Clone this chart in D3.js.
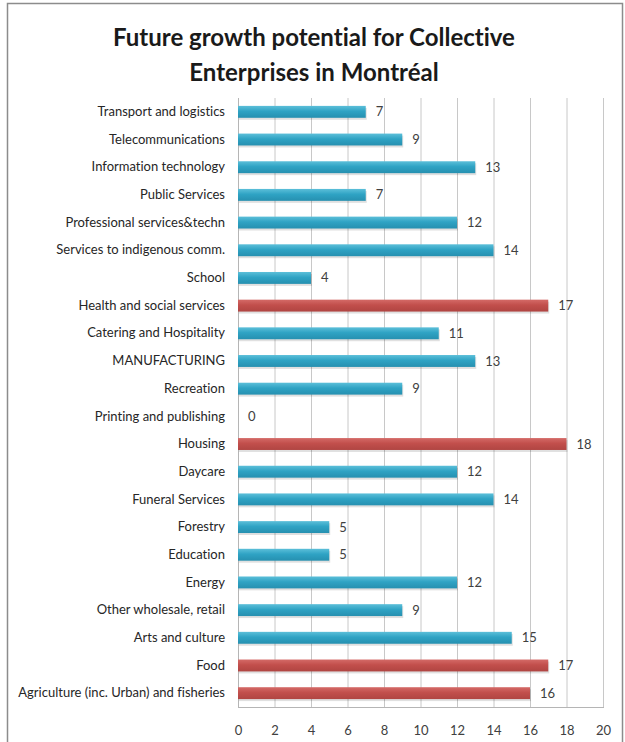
<!DOCTYPE html>
<html>
<head>
<meta charset="utf-8">
<script src="https://cdn.jsdelivr.net/npm/d3@7"></script>
<style>
  body { margin: 0; background: #fff; }
  svg { display: block; font-family: "Lato", "Open Sans", sans-serif; font-variant-ligatures: none; }
</style>
</head>
<body>
<svg width="625" height="742"></svg>
<script>
const categories = [
  "Transport and logistics", "Telecommunications", "Information technology",
  "Public Services", "Professional services&techn", "Services to indigenous comm.",
  "School", "Health and social services", "Catering and Hospitality",
  "MANUFACTURING", "Recreation", "Printing and publishing", "Housing",
  "Daycare", "Funeral Services", "Forestry", "Education", "Energy",
  "Other wholesale, retail", "Arts and culture", "Food",
  "Agriculture (inc. Urban) and fisheries"
];
const values = [7, 9, 13, 7, 12, 14, 4, 17, 11, 13, 9, 0, 18, 12, 14, 5, 5, 12, 9, 15, 17, 16];
const highlighted = ["Health and social services", "Housing", "Food", "Agriculture (inc. Urban) and fisheries"];
const xTicks = [0, 2, 4, 6, 8, 10, 12, 14, 16, 18, 20];
const titleLines = ["Future growth potential for Collective", "Enterprises in Montréal"];

const data = categories.map((c, i) => ({ label: c, value: values[i] }));

const svg = d3.select("svg");
const area = { left: 238, right: 603, top: 98, bottom: 707 };

// frame
svg.append("rect")
   .attr("x", 7.5).attr("y", 3.5)
   .attr("width", 615).attr("height", 745)
   .attr("fill", "#fff")
   .attr("stroke", "#8c8c8c")
   .attr("stroke-width", 1.5);

// gradients
const defs = svg.append("defs");
function addGrad(id, light, mid, dark) {
  const g = defs.append("linearGradient").attr("id", id)
     .attr("x1", 0).attr("y1", 0).attr("x2", 0).attr("y2", 1);
  g.append("stop").attr("offset", "0%").attr("stop-color", light);
  g.append("stop").attr("offset", "45%").attr("stop-color", mid);
  g.append("stop").attr("offset", "100%").attr("stop-color", dark);
}
addGrad("gBlue", "#5cbfd9", "#2fa3c4", "#2690b0");
addGrad("gRed", "#d46a67", "#c24f4c", "#b04542");

// title
svg.append("text")
   .attr("x", 314).attr("y", 0)
   .attr("text-anchor", "middle")
   .style("font-size", "24px")
   .style("font-weight", "bold")
   .style("fill", "#1a1a1a")
   .selectAll("tspan")
   .data(titleLines)
   .enter()
   .append("tspan")
   .attr("x", 314)
   .attr("y", (d, i) => 46 + i * 35)
   .text(d => d);

const scaleX = d3.scaleLinear()
                 .domain([0, 20])
                 .range([area.left, area.right]);

const scaleY = d3.scaleBand()
                 .domain(categories)
                 .range([area.top, area.bottom])
                 .paddingInner(0.57)
                 .paddingOuter(0.285);

// grid lines
svg.append("g")
   .selectAll("line")
   .data(xTicks.slice(1))
   .enter()
   .append("line")
   .attr("x1", d => scaleX(d) + 0.5).attr("x2", d => scaleX(d) + 0.5)
   .attr("y1", area.top).attr("y2", area.bottom)
   .attr("stroke", "#c8c8c8");

// axis lines
svg.append("line")
   .attr("x1", area.left + 0.5).attr("x2", area.left + 0.5)
   .attr("y1", area.top).attr("y2", area.bottom)
   .attr("stroke", "#b5b5b5");
svg.append("line")
   .attr("x1", area.left).attr("x2", area.right + 1)
   .attr("y1", area.bottom + 0.5).attr("y2", area.bottom + 0.5)
   .attr("stroke", "#b5b5b5");

// x axis tick labels
const axisX = d3.axisBottom(scaleX).tickValues(xTicks).tickSize(0).tickPadding(19);
const gx = svg.append("g")
   .attr("transform", `translate(0, ${area.bottom})`)
   .call(axisX);
gx.select(".domain").remove();
gx.selectAll("text")
  .style("font-size", "13px")
  .style("font-family", "\"Lato\", sans-serif")
  .style("fill", "#404040");

// y axis labels
const axisY = d3.axisLeft(scaleY).tickSize(0).tickPadding(13);
const gy = svg.append("g")
   .attr("transform", `translate(${area.left}, 0)`)
   .call(axisY);
gy.select(".domain").remove();
gy.selectAll("text")
  .style("font-size", "13px")
  .style("font-family", "\"Lato\", sans-serif")
  .style("fill", "#262626");

// bar shadows
svg.selectAll(".shadow")
   .data(data)
   .enter()
   .append("rect")
   .attr("x", area.left + 1)
   .attr("y", d => scaleY(d.label) + 2)
   .attr("width", d => Math.max(0, scaleX(d.value) - area.left))
   .attr("height", scaleY.bandwidth())
   .attr("fill", "#000")
   .attr("opacity", d => d.value > 0 ? 0.12 : 0);

// bars
svg.selectAll(".bar")
   .data(data)
   .enter()
   .append("rect")
   .attr("x", area.left)
   .attr("y", d => scaleY(d.label))
   .attr("width", d => scaleX(d.value) - area.left)
   .attr("height", scaleY.bandwidth())
   .attr("fill", d => highlighted.includes(d.label) ? "url(#gRed)" : "url(#gBlue)");

// value labels
svg.selectAll(".val")
   .data(data)
   .enter()
   .append("text")
   .attr("x", d => scaleX(d.value) + 10)
   .attr("y", d => scaleY(d.label) + scaleY.bandwidth() / 2)
   .attr("dy", "0.35em")
   .style("font-size", "13px")
   .style("fill", "#404040")
   .text(d => d.value);
</script>
</body>
</html>
